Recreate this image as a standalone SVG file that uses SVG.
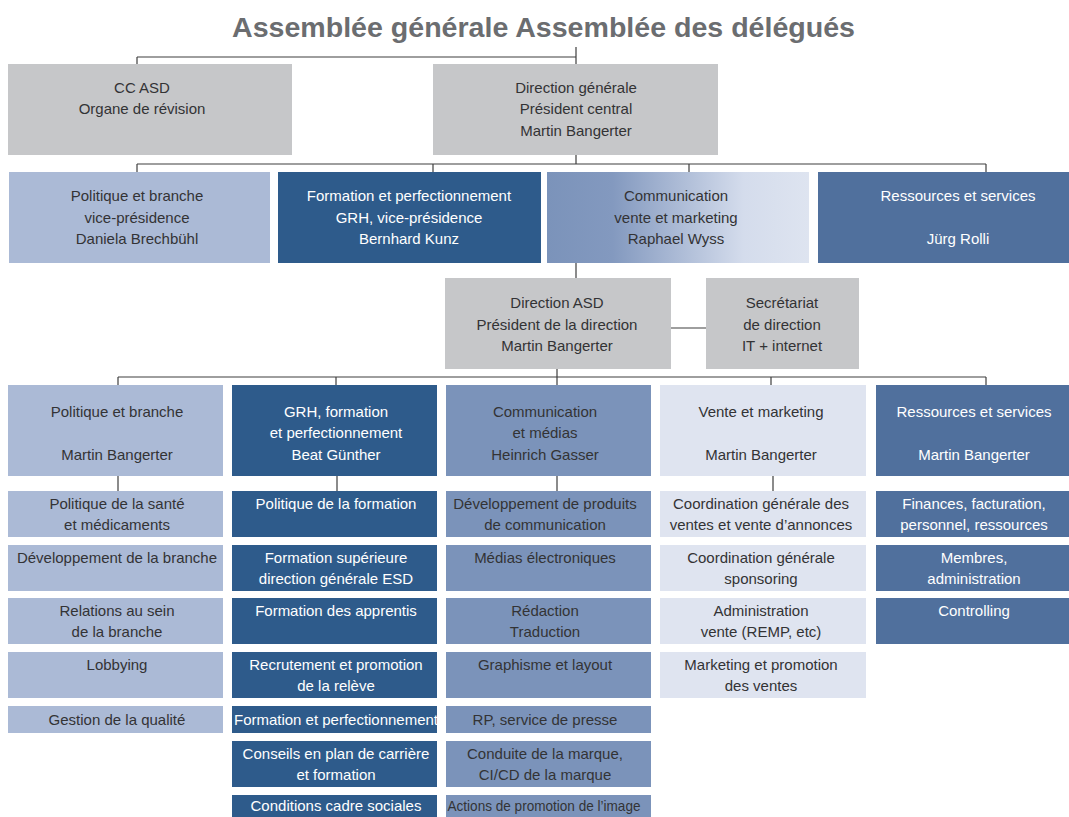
<svg xmlns="http://www.w3.org/2000/svg" width="1069" height="817" viewBox="0 0 1069 817">
<style>
text{font-family:"Liberation Sans",Arial,sans-serif;font-size:15px;text-anchor:middle}
.d{fill:#333335}
.w{fill:#ffffff}
.title{font-size:28px;font-weight:bold;fill:#6b6d70;text-anchor:start}
.gray{fill:#c6c7c9}
.lb{fill:#abbad6}
.db{fill:#2e5b8b}
.mb{fill:#7b93ba}
.vl{fill:#dfe4f0}
.md{fill:#50709d}
#connectors path{fill:none;stroke:#3f3f3f;stroke-width:1.2}
</style>
<defs>
<linearGradient id="grad" x1="0" y1="0" x2="1" y2="0">
<stop offset="0" stop-color="#7b93ba"/>
<stop offset="0.25" stop-color="#8399bf"/>
<stop offset="0.75" stop-color="#d4dcec"/>
<stop offset="1" stop-color="#dee4f0"/>
</linearGradient>
</defs>
<rect width="1069" height="817" fill="#ffffff"/>
<text class="title" x="232" y="37" textLength="623" lengthAdjust="spacingAndGlyphs">Assemblée générale Assemblée des délégués</text>

<g id="connectors">
<path d="M576 47V64M137 57H576M137 57V64"/>
<path d="M576 155V164M137 164H986M137 164V172M433 164V172M689 164V172M986 164V172"/>
<path d="M576 263V278M671 328H706"/>
<path d="M557 369V385M118 377H986M118 377V385M336 377V385M771 377V385M986 377V385"/>
<path d="M118 476V491M337 476V491M557 476V491M773 476V491"/>
</g>

<g id="cc-asd"><rect class="gray" x="8" y="64" width="284" height="91"/>
<text class="d" x="142" y="92.5">CC ASD</text><text class="d" x="142" y="114">Organe de révision</text></g>
<g id="direction-generale"><rect class="gray" x="433" y="64" width="285" height="91"/>
<text class="d" x="576" y="92.5">Direction générale</text><text class="d" x="576" y="114">Président central</text><text class="d" x="576" y="135.5">Martin Bangerter</text></g>

<g id="vp-politique"><rect class="lb" x="9" y="172" width="261" height="91"/>
<text class="d" x="137" y="201">Politique et branche</text><text class="d" x="137" y="222.5">vice-présidence</text><text class="d" x="137" y="244">Daniela Brechbühl</text></g>
<g id="vp-formation"><rect class="db" x="278" y="172" width="263" height="91"/>
<text class="w" x="409" y="201">Formation et perfectionnement</text><text class="w" x="409" y="222.5">GRH, vice-présidence</text><text class="w" x="409" y="244">Bernhard Kunz</text></g>
<g id="vp-communication"><rect fill="url(#grad)" x="547" y="172" width="262" height="91"/>
<text class="d" x="676" y="201">Communication</text><text class="d" x="676" y="222.5">vente et marketing</text><text class="d" x="676" y="244">Raphael Wyss</text></g>
<g id="vp-ressources"><rect class="md" x="818" y="172" width="251" height="91"/>
<text class="w" x="958" y="201">Ressources et services</text><text class="w" x="958" y="244">Jürg Rolli</text></g>

<g id="direction-asd"><rect class="gray" x="445" y="278" width="226" height="91"/>
<text class="d" x="557" y="308">Direction ASD</text><text class="d" x="557" y="329.5">Président de la direction</text><text class="d" x="557" y="351">Martin Bangerter</text></g>
<g id="secretariat"><rect class="gray" x="706" y="278" width="153" height="91"/>
<text class="d" x="782" y="308">Secrétariat</text><text class="d" x="782" y="329.5">de direction</text><text class="d" x="782" y="351">IT + internet</text></g>

<g id="h-politique"><rect class="lb" x="8" y="385" width="215" height="91"/>
<text class="d" x="117" y="416.5">Politique et branche</text><text class="d" x="117" y="459.5">Martin Bangerter</text></g>
<g id="h-grh"><rect class="db" x="232" y="385" width="205" height="91"/>
<text class="w" x="336" y="416.5">GRH, formation</text><text class="w" x="336" y="438">et perfectionnement</text><text class="w" x="336" y="459.5">Beat Günther</text></g>
<g id="h-communication"><rect class="mb" x="446" y="385" width="205" height="91"/>
<text class="d" x="545" y="416.5">Communication</text><text class="d" x="545" y="438">et médias</text><text class="d" x="545" y="459.5">Heinrich Gasser</text></g>
<g id="h-vente"><rect class="vl" x="660" y="385" width="206" height="91"/>
<text class="d" x="761" y="416.5">Vente et marketing</text><text class="d" x="761" y="459.5">Martin Bangerter</text></g>
<g id="h-ressources"><rect class="md" x="876" y="385" width="193" height="91"/>
<text class="w" x="974" y="416.5">Ressources et services</text><text class="w" x="974" y="459.5">Martin Bangerter</text></g>

<!-- column 1 -->
<g id="c1-a"><rect class="lb" x="8" y="491" width="215" height="46"/><text class="d" x="117" y="508.5">Politique de la santé</text><text class="d" x="117" y="530">et médicaments</text></g>
<g id="c1-b"><rect class="lb" x="8" y="545" width="215" height="46"/><text class="d" x="117" y="562.5">Développement de la branche</text></g>
<g id="c1-c"><rect class="lb" x="8" y="598" width="215" height="46"/><text class="d" x="117" y="615.5">Relations au sein</text><text class="d" x="117" y="637">de la branche</text></g>
<g id="c1-d"><rect class="lb" x="8" y="652" width="215" height="46"/><text class="d" x="117" y="670">Lobbying</text></g>
<g id="c1-e"><rect class="lb" x="8" y="706" width="215" height="27"/><text class="d" x="117" y="725">Gestion de la qualité</text></g>

<!-- column 2 -->
<g id="c2-a"><rect class="db" x="232" y="491" width="205" height="46"/><text class="w" x="336" y="508.5">Politique de la formation</text></g>
<g id="c2-b"><rect class="db" x="232" y="545" width="205" height="46"/><text class="w" x="336" y="562.5">Formation supérieure</text><text class="w" x="336" y="584">direction générale ESD</text></g>
<g id="c2-c"><rect class="db" x="232" y="598" width="205" height="46"/><text class="w" x="336" y="615.5">Formation des apprentis</text></g>
<g id="c2-d"><rect class="db" x="232" y="652" width="205" height="46"/><text class="w" x="336" y="669.5">Recrutement et promotion</text><text class="w" x="336" y="691">de la relève</text></g>
<g id="c2-e"><rect class="db" x="232" y="706" width="205" height="27"/><text class="w" x="336" y="725" textLength="204" lengthAdjust="spacingAndGlyphs">Formation et perfectionnement</text></g>
<g id="c2-f"><rect class="db" x="232" y="741" width="205" height="46"/><text class="w" x="336" y="758.5">Conseils en plan de carrière</text><text class="w" x="336" y="780">et formation</text></g>
<g id="c2-g"><rect class="db" x="232" y="795" width="205" height="22"/><text class="w" x="336" y="811">Conditions cadre sociales</text></g>

<!-- column 3 -->
<g id="c3-a"><rect class="mb" x="446" y="491" width="205" height="46"/><text class="d" x="545" y="508.5">Développement de produits</text><text class="d" x="545" y="530">de communication</text></g>
<g id="c3-b"><rect class="mb" x="446" y="545" width="205" height="46"/><text class="d" x="545" y="562.5">Médias électroniques</text></g>
<g id="c3-c"><rect class="mb" x="446" y="598" width="205" height="46"/><text class="d" x="545" y="615.5">Rédaction</text><text class="d" x="545" y="637">Traduction</text></g>
<g id="c3-d"><rect class="mb" x="446" y="652" width="205" height="46"/><text class="d" x="545" y="669.5">Graphisme et layout</text></g>
<g id="c3-e"><rect class="mb" x="446" y="706" width="205" height="27"/><text class="d" x="545" y="725">RP, service de presse</text></g>
<g id="c3-f"><rect class="mb" x="446" y="741" width="205" height="46"/><text class="d" x="545" y="758.5">Conduite de la marque,</text><text class="d" x="545" y="780">CI/CD de la marque</text></g>
<g id="c3-g"><rect class="mb" x="446" y="795" width="205" height="22"/><text class="d" x="544" y="811" textLength="193" lengthAdjust="spacingAndGlyphs">Actions de promotion de l’image</text></g>

<!-- column 4 -->
<g id="c4-a"><rect class="vl" x="660" y="491" width="206" height="46"/><text class="d" x="761" y="508.5">Coordination générale des</text><text class="d" x="761" y="530">ventes et vente d’annonces</text></g>
<g id="c4-b"><rect class="vl" x="660" y="545" width="206" height="46"/><text class="d" x="761" y="562.5">Coordination générale</text><text class="d" x="761" y="584">sponsoring</text></g>
<g id="c4-c"><rect class="vl" x="660" y="598" width="206" height="46"/><text class="d" x="761" y="615.5">Administration</text><text class="d" x="761" y="637">vente (REMP, etc)</text></g>
<g id="c4-d"><rect class="vl" x="660" y="652" width="206" height="46"/><text class="d" x="761" y="669.5">Marketing et promotion</text><text class="d" x="761" y="691">des ventes</text></g>

<!-- column 5 -->
<g id="c5-a"><rect class="md" x="876" y="491" width="193" height="46"/><text class="w" x="974" y="508.5">Finances, facturation,</text><text class="w" x="974" y="530">personnel, ressources</text></g>
<g id="c5-b"><rect class="md" x="876" y="545" width="193" height="46"/><text class="w" x="974" y="562.5">Membres,</text><text class="w" x="974" y="584">administration</text></g>
<g id="c5-c"><rect class="md" x="876" y="598" width="193" height="46"/><text class="w" x="974" y="615.5">Controlling</text></g>
</svg>
